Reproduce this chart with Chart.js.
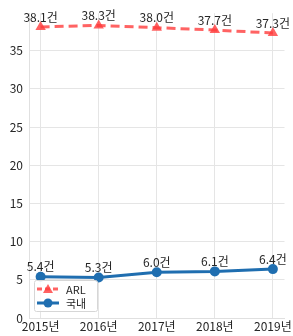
<!DOCTYPE html>
<html>
<head>
<meta charset="utf-8">
<script src="https://cdn.jsdelivr.net/npm/chart.js@4/dist/chart.umd.min.js"></script>
<style>
  html, body { margin: 0; padding: 0; background: #fff; }
  #wrap { width: 293px; height: 336px; }
</style>
</head>
<body>
<div id="wrap"><canvas id="chart"></canvas></div>
<script>
var years = [2015, 2016, 2017, 2018, 2019];
var arlValues = [38.1, 38.3, 38.0, 37.7, 37.3];
var domesticValues = [5.4, 5.3, 6.0, 6.1, 6.4];
var yTicks = [0, 5, 10, 15, 20, 25, 30, 35];

var FONT = "'Noto Sans CJK KR', 'Noto Sans', sans-serif";
var RED = 'rgba(255, 60, 60, 0.8)';
var BLUE = '#1f6eb0';

function toPoints(values) {
    return years.map(function (y, i) { return { x: y, y: values[i] }; });
}

var valueLabels = {
    id: 'valueLabels',
    afterDatasetsDraw: function (chart) {
        var ctx = chart.ctx;
        ctx.save();
        ctx.font = '12px ' + FONT;
        ctx.fillStyle = '#262626';
        ctx.textAlign = 'center';
        ctx.textBaseline = 'bottom';
        chart.data.datasets.forEach(function (ds, di) {
            chart.getDatasetMeta(di).data.forEach(function (pt, i) {
                ctx.fillText(ds.data[i].y.toFixed(1) + '건', pt.x, pt.y - 4);
            });
        });
        ctx.restore();
    }
};

// legend box in the lower left corner of the plot
var boxLegend = {
    id: 'boxLegend',
    afterDraw: function (chart) {
        var ctx = chart.ctx;
        var a = chart.chartArea;
        var x = a.left + 5, y = a.bottom - 38, w = 63, h = 31;
        ctx.save();
        ctx.fillStyle = 'rgba(255,255,255,0.85)';
        ctx.strokeStyle = '#d6d6d6';
        ctx.lineWidth = 1;
        ctx.beginPath();
        ctx.roundRect(x + 0.5, y + 0.5, w, h, 2);
        ctx.fill();
        ctx.stroke();
        var rows = [
            { label: 'ARL', color: RED, dash: [5, 3], marker: 'tri' },
            { label: '국내', color: BLUE, dash: [], marker: 'circ' }
        ];
        rows.forEach(function (r, i) {
            var cy = y + 9 + i * 14;
            ctx.strokeStyle = r.color;
            ctx.fillStyle = r.color;
            ctx.lineWidth = 3;
            ctx.setLineDash(r.dash);
            ctx.beginPath();
            ctx.moveTo(x + 3, cy);
            ctx.lineTo(x + 25, cy);
            ctx.stroke();
            ctx.setLineDash([]);
            ctx.beginPath();
            if (r.marker === 'tri') {
                ctx.moveTo(x + 14, cy - 5);
                ctx.lineTo(x + 19, cy + 4);
                ctx.lineTo(x + 9, cy + 4);
                ctx.closePath();
            } else {
                ctx.arc(x + 14, cy, 4.5, 0, Math.PI * 2);
            }
            ctx.fill();
            ctx.fillStyle = '#262626';
            ctx.font = '11px ' + FONT;
            ctx.textBaseline = 'middle';
            ctx.textAlign = 'left';
            ctx.fillText(r.label, x + 32, cy + 1);
        });
        ctx.restore();
    }
};

new Chart(document.getElementById('chart').getContext('2d'), {
    type: 'line',
    data: {
        datasets: [{
            label: 'ARL',
            data: toPoints(arlValues),
            borderColor: RED,
            backgroundColor: RED,
            borderWidth: 3,
            borderDash: [9, 5],
            pointStyle: 'triangle',
            pointRadius: 6,
            pointHoverRadius: 6,
            pointBorderWidth: 0
        }, {
            label: '국내',
            data: toPoints(domesticValues),
            borderColor: BLUE,
            backgroundColor: BLUE,
            borderWidth: 3,
            pointStyle: 'circle',
            pointRadius: 5,
            pointHoverRadius: 5,
            pointBorderWidth: 0
        }]
    },
    options: {
        responsive: true,
        maintainAspectRatio: false,
        animation: false,
        layout: { padding: { top: 9, right: 6, left: 0, bottom: 0 } },
        plugins: {
            legend: { display: false },
            tooltip: { enabled: false }
        },
        scales: {
            x: {
                type: 'linear',
                min: 2014.8,
                max: 2019.2,
                afterBuildTicks: function (axis) {
                    axis.ticks = years.map(function (y) { return { value: y }; });
                },
                afterFit: function (axis) { axis.height = 18; },
                ticks: {
                    padding: 1,
                    color: '#262626',
                    font: { family: FONT, size: 12 },
                    maxRotation: 0,
                    callback: function (v) { return v + '년'; }
                },
                grid: { color: '#e5e5e5', drawTicks: false },
                border: { color: '#e0e0e0' }
            },
            y: {
                min: 0,
                max: 39.9,
                afterBuildTicks: function (axis) {
                    axis.ticks = yTicks.map(function (v) { return { value: v }; });
                },
                afterFit: function (axis) { axis.width = 29; },
                ticks: {
                    padding: 6,
                    color: '#262626',
                    font: { family: FONT, size: 12 }
                },
                grid: { color: '#e5e5e5', drawTicks: false },
                border: { color: '#e0e0e0' }
            }
        }
    },
    plugins: [valueLabels, boxLegend]
});
</script>
</body>
</html>
